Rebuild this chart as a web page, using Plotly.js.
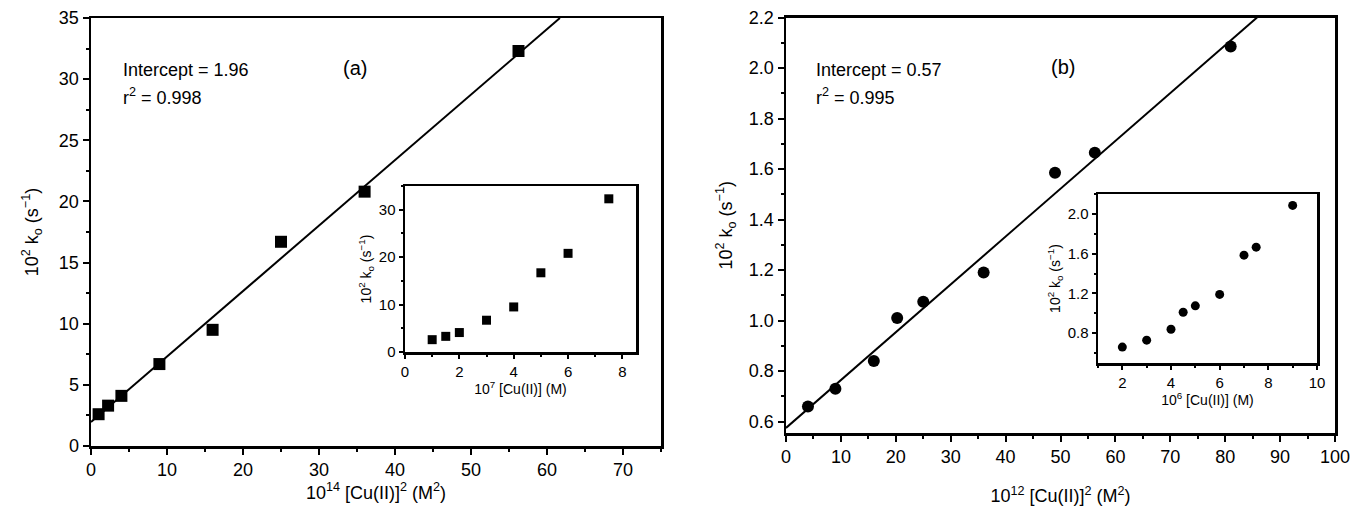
<!DOCTYPE html>
<html>
<head>
<meta charset="utf-8">
<script src="https://cdn.plot.ly/plotly-3.0.1.min.js"></script>
<style>html,body{margin:0;padding:0;background:#fff;}#chart{width:1353px;height:512px;}</style>
</head>
<body>
<div id="chart"></div>
<script>
// Panel (a): Cu(II) squared vs 10^2 k_o
const concA = [1, 1.5, 2, 3, 4, 5, 6, 7.5];            // 10^7 [Cu(II)] (M)
const concSqA = [1, 2.25, 4, 9, 16, 25, 36, 56.25];   // 10^14 [Cu(II)]^2 (M^2)
const kA = [2.6, 3.3, 4.1, 6.7, 9.5, 16.7, 20.8, 32.3];
const fitAx = [0, 61.7];
const fitAy = [1.96, 35];

// Panel (b)
const concB = [2, 3, 4, 4.5, 5, 6, 7, 7.5, 9];                 // 10^6 [Cu(II)] (M)
const concSqB = [4, 9, 16, 20.25, 25, 36, 49, 56.25, 81];       // 10^12 [Cu(II)]^2 (M^2)
const kB = [0.66, 0.73, 0.84, 1.01, 1.075, 1.19, 1.585, 1.665, 2.085];
const fitBx = [0, 85.8];
const fitBy = [0.575, 2.2];

const W = 1353, H = 512;
const px = v => v / W;
const py = v => 1 - v / H;

const FONT = 'Liberation Sans, Arial, sans-serif';
const yTitle = '10<sup>2</sup> k<sub>o</sub> (s<sup>−1</sup>)';

function axis(opts) {
  return Object.assign({
    showline: true, linecolor: '#000', linewidth: 2.5, mirror: true,
    ticks: 'outside', ticklen: 6, tickwidth: 2, tickcolor: '#000',
    showgrid: false, zeroline: false, automargin: false,
    tickfont: {family: FONT, size: 18, color: '#000'},
    minor: {ticks: 'outside', ticklen: 3, tickwidth: 2, tickcolor: '#000', showgrid: false}
  }, opts);
}

const traces = [
  {x: fitAx, y: fitAy, mode: 'lines', line: {color: '#000', width: 2}, xaxis: 'x', yaxis: 'y', hoverinfo: 'skip'},
  {x: concSqA, y: kA, mode: 'markers', marker: {symbol: 'square', size: 12, color: '#000'}, xaxis: 'x', yaxis: 'y'},
  {x: concA, y: kA, mode: 'markers', marker: {symbol: 'square', size: 9, color: '#000'}, xaxis: 'x2', yaxis: 'y2'},
  {x: fitBx, y: fitBy, mode: 'lines', line: {color: '#000', width: 2}, xaxis: 'x3', yaxis: 'y3', hoverinfo: 'skip'},
  {x: concSqB, y: kB, mode: 'markers', marker: {symbol: 'circle', size: 12, color: '#000'}, xaxis: 'x3', yaxis: 'y3'},
  {x: concB, y: kB, mode: 'markers', marker: {symbol: 'circle', size: 9, color: '#000'}, xaxis: 'x4', yaxis: 'y4'}
];

const layout = {
  width: W, height: H,
  margin: {l: 0, r: 0, t: 0, b: 0},
  paper_bgcolor: '#fff', plot_bgcolor: 'rgba(0,0,0,0)',
  showlegend: false,
  font: {family: FONT, color: '#000'},
  xaxis: axis({domain: [px(91), px(661)], range: [0, 75], dtick: 10, tick0: 0, anchor: 'y',
    minor: {dtick: 5, ticks: 'outside', ticklen: 3, tickwidth: 2, tickcolor: '#000'},
    title: {text: '10<sup>14</sup> [Cu(II)]<sup>2</sup> (M<sup>2</sup>)', font: {family: FONT, size: 18}, standoff: 4}}),
  yaxis: axis({domain: [py(446), py(18)], range: [0, 35], dtick: 5, tick0: 0, anchor: 'x',
    minor: {dtick: 2.5, ticks: 'outside', ticklen: 3, tickwidth: 2, tickcolor: '#000'},
    title: {text: yTitle, font: {family: FONT, size: 18}, standoff: 16}}),
  xaxis2: axis({domain: [px(405), px(636)], range: [0, 8.5], dtick: 2, tick0: 0, anchor: 'y2', ticklen: 4,
    tickfont: {family: FONT, size: 15, color: '#000'},
    minor: {dtick: 1, ticks: 'outside', ticklen: 2, tickwidth: 2, tickcolor: '#000'},
    title: {text: '10<sup>7</sup> [Cu(II)] (M)', font: {family: FONT, size: 14}, standoff: 4}}),
  yaxis2: axis({domain: [py(352), py(186)], range: [0, 35], dtick: 10, tick0: 0, anchor: 'x2', ticklen: 4,
    tickfont: {family: FONT, size: 15, color: '#000'},
    minor: {dtick: 5, ticks: 'outside', ticklen: 2, tickwidth: 2, tickcolor: '#000'},
    title: {text: yTitle, font: {family: FONT, size: 14}, standoff: 4}}),
  xaxis3: axis({domain: [px(786), px(1335)], range: [0, 100], dtick: 10, tick0: 0, anchor: 'y3',
    minor: {dtick: 5, ticks: 'outside', ticklen: 3, tickwidth: 2, tickcolor: '#000'},
    title: {text: '10<sup>12</sup> [Cu(II)]<sup>2</sup> (M<sup>2</sup>)', font: {family: FONT, size: 18}, standoff: 24}}),
  yaxis3: axis({domain: [py(433), py(17.5)], range: [0.555, 2.2], dtick: 0.2, tick0: 0, anchor: 'x3', tickformat: '.1f',
    minor: {dtick: 0.1, ticks: 'outside', ticklen: 3, tickwidth: 2, tickcolor: '#000'},
    title: {text: yTitle, font: {family: FONT, size: 18}, standoff: 12}}),
  xaxis4: axis({domain: [px(1098), px(1317)], range: [1, 10], dtick: 2, tick0: 0, anchor: 'y4', ticklen: 4,
    tickfont: {family: FONT, size: 15, color: '#000'},
    minor: {dtick: 1, ticks: 'outside', ticklen: 2, tickwidth: 2, tickcolor: '#000'},
    title: {text: '10<sup>6</sup> [Cu(II)] (M)', font: {family: FONT, size: 14}, standoff: 2}}),
  yaxis4: axis({domain: [py(363), py(194)], range: [0.5, 2.2], dtick: 0.4, tick0: 0, anchor: 'x4', ticklen: 4, tickformat: '.1f',
    tickfont: {family: FONT, size: 15, color: '#000'},
    minor: {dtick: 0.2, ticks: 'outside', ticklen: 2, tickwidth: 2, tickcolor: '#000'},
    title: {text: yTitle, font: {family: FONT, size: 14}, standoff: 4}}),
  annotations: [
    {xref: 'paper', yref: 'paper', x: px(121), y: py(70), xanchor: 'left', yanchor: 'middle', showarrow: false,
     text: 'Intercept = 1.96', font: {family: FONT, size: 18}},
    {xref: 'paper', yref: 'paper', x: px(121), y: py(96), xanchor: 'left', yanchor: 'middle', showarrow: false,
     text: 'r<sup>2</sup> = 0.998', font: {family: FONT, size: 18}},
    {xref: 'paper', yref: 'paper', x: px(355), y: py(68), xanchor: 'center', yanchor: 'middle', showarrow: false,
     text: '(a)', font: {family: FONT, size: 20}},
    {xref: 'paper', yref: 'paper', x: px(814), y: py(70), xanchor: 'left', yanchor: 'middle', showarrow: false,
     text: 'Intercept = 0.57', font: {family: FONT, size: 18}},
    {xref: 'paper', yref: 'paper', x: px(814), y: py(96), xanchor: 'left', yanchor: 'middle', showarrow: false,
     text: 'r<sup>2</sup> = 0.995', font: {family: FONT, size: 18}},
    {xref: 'paper', yref: 'paper', x: px(1063), y: py(67), xanchor: 'center', yanchor: 'middle', showarrow: false,
     text: '(b)', font: {family: FONT, size: 20}}
  ]
};

Plotly.newPlot('chart', traces, layout, {staticPlot: true, displayModeBar: false});
</script>
</body>
</html>
